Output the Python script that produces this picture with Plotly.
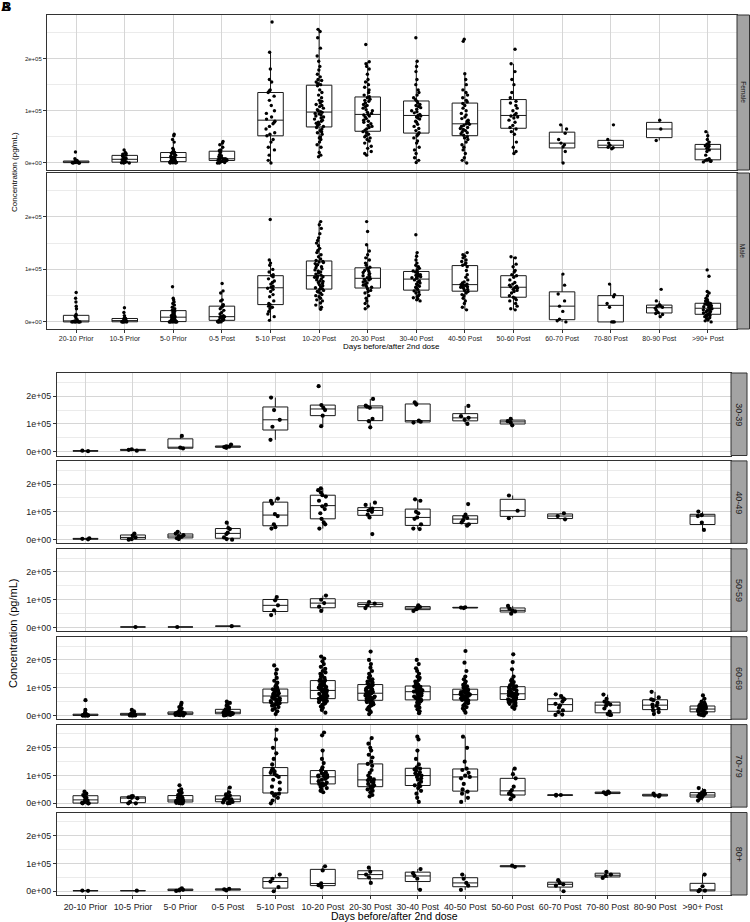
import plotly.graph_objects as go

categories = ["20-10 Prior", "10-5 Prior", "5-0 Prior", "0-5 Post", "5-10 Post",
              "10-20 Post", "20-30 Post", "30-40 Post", "40-50 Post", "50-60 Post",
              "60-70 Post", "70-80 Post", "80-90 Post", ">90+ Post"]
y_tick_values = [0, 100000, 200000]
y_tick_labels = ["0e+00", "1e+05", "2e+05"]
x_title = "Days before/after 2nd dose"
y_title = "Concentration (pg/mL)"
sex_labels = ["Female", "Male"]
age_labels = ["30-39", "40-49", "50-59", "60-69", "70-79", "80+"]

# concentrations, in thousands of pg/mL, one list per category
female = [
    [0, 0, 0, 0.5, 1, 1, 1.5, 2, 2, 2.5, 3, 4, 5, 8, 21],
    [0, 0, 0.5, 1, 1, 2, 3, 5, 6, 7, 7, 9, 10, 12, 14, 15, 17, 18, 20, 25],
    [0, 0, 0.5, 1, 1, 1.5, 2, 2.5, 3, 4, 5, 6, 8, 9, 10, 11, 12, 13, 15, 17, 18, 20, 20, 22, 25, 28, 40, 45, 52, 55],
    [0, 0, 1, 2, 3, 4, 5, 5, 6, 7, 8, 8, 8, 10, 12, 14, 16, 20, 22, 24, 25, 30, 35, 38, 41],
    [0, 5, 15, 25, 30, 40, 45, 52, 55, 58, 65, 70, 75, 78, 80, 84, 88, 95, 100, 110, 120, 128, 135, 138, 140, 155, 160, 180, 212, 270],
    [12, 15, 20, 30, 35, 40, 45, 48, 50, 55, 58, 60, 62, 65, 68,
     70, 72, 74, 76, 78, 80, 82, 84, 86, 88, 90, 92, 94, 95, 97,
     98, 100, 102, 105, 108, 110, 112, 115, 118, 120, 125, 130, 135, 140, 148,
     150, 152, 155, 158, 160, 165, 170, 178, 185, 195, 205, 220, 240, 252, 256],
    [15, 18, 22, 28, 32, 38, 42, 45, 48, 50, 52, 55, 58, 60,
     63, 65, 68, 70, 72, 75, 78, 80, 82, 85, 88, 90, 92, 93,
     95, 97, 100, 102, 105, 108, 110, 112, 115, 118, 120, 122, 125,
     127, 130, 135, 140, 145, 150, 155, 160, 170, 180, 185, 190, 194, 227],
    [1, 5, 10, 18, 25, 30, 38, 42, 48, 52, 55, 58, 62, 66, 70, 74, 78, 80, 84, 86, 88, 90, 91,
     93, 96, 98, 100, 103, 106, 108, 110, 112, 115, 118, 121, 125, 130, 135, 140, 150, 160, 175, 185, 195, 240],
    [0, 5, 10, 18, 25, 30, 35, 40, 45, 48, 50, 53, 56, 58, 60, 62, 64, 66, 68, 70, 72, 74, 75,
     77, 80, 82, 85, 88, 92, 95, 100, 105, 110, 114, 117, 120, 125, 130, 135, 140, 150, 160, 171, 233, 237],
    [18, 22, 30, 40, 55, 60, 65, 68, 72, 78, 82, 86, 88, 90, 92, 95, 100, 105, 110, 115, 118, 125, 135, 150, 160, 175, 190, 218],
    [0, 22, 31, 35, 38, 45, 57, 65, 73],
    [27, 29, 30, 34, 38, 45, 73],
    [43, 65, 82],
    [2, 3, 4, 5, 6, 6, 8, 15, 22, 25, 28, 30, 32, 33, 35, 36, 40, 45, 52, 60],
]

male = [
    [0, 0, 0, 0, 0, 0, 0, 0.5, 0.5, 1, 1, 1, 1, 1.5, 2, 4, 8, 11, 12, 14, 25, 30, 38, 45, 56],
    [0, 0, 0, 0, 0, 0.5, 1, 1.5, 2, 2.5, 2.5, 3, 4, 5, 6, 7, 8, 12, 18, 27],
    [0, 0, 0, 0, 0, 0, 0, 0, 0.5, 1, 2, 3, 4, 5, 6, 7, 8, 9, 10, 11, 12, 13, 15, 17, 19, 20, 22, 25, 28, 32, 35, 38, 42, 45, 67],
    [0, 0, 0, 0, 1, 2, 3, 3, 4, 5, 6, 8, 9, 10, 10, 10, 12, 15, 18, 22, 25, 28, 30, 32, 33, 40, 42, 55, 59, 73],
    [3, 10, 15, 20, 25, 28, 30, 33, 35, 40, 48, 52, 58, 62, 64, 66, 68, 72, 75, 78, 82, 86, 88, 90, 95, 100, 108, 112, 118, 195],
    [24, 28, 32, 36, 40, 42, 45, 48, 50, 52, 55, 57, 58, 60, 62,
     63, 65, 67, 69, 71, 73, 75, 77, 78, 80, 82, 84, 85, 86, 87,
     89, 91, 93, 95, 97, 99, 101, 103, 105, 107, 109, 111, 113, 114, 115,
     117, 120, 124, 128, 132, 136, 140, 145, 150, 155, 160, 168, 178, 185, 191],
    [25, 30, 35, 40, 45, 50, 55, 58, 60, 63, 66, 68, 70, 72, 74, 76, 78, 80, 81, 82,
     84, 86, 88, 90, 92, 94, 96, 98, 100, 102, 104, 108, 112, 118, 122, 128, 135, 147, 172, 191],
    [40, 42, 44, 46, 48, 50, 52, 55, 57, 59, 62, 64, 66, 68, 70, 72, 74, 76, 78, 80,
     83, 84, 85, 86, 88, 89, 90, 92, 94, 95, 97, 99, 102, 105, 108, 112, 118, 125, 132, 166],
    [23, 28, 35, 40, 45, 50, 52, 55, 58, 60, 62, 64, 66, 67, 68, 69, 70, 71, 72, 74, 76, 80, 85, 90, 98,
     105, 108, 110, 112, 115, 118, 122, 125, 128, 132],
    [23, 25, 30, 35, 40, 42, 45, 47, 50, 55, 58, 60, 62, 64, 65, 67, 68, 70, 72, 75, 80, 85, 88, 90, 95, 98, 105, 110, 122, 124],
    [0, 2, 5, 20, 30, 40, 53, 70, 91],
    [0, 0, 0, 28, 35, 48, 52, 72],
    [10, 14, 16, 18, 22, 26, 28, 30, 31, 33, 40, 62],
    [0, 2, 4, 6, 8, 10, 11, 12, 13, 14, 15, 17, 18, 19, 20, 21, 22, 23, 24, 25,
     27, 28, 29, 30, 31, 32, 33, 34, 34, 35, 36, 38, 40, 42, 45, 50, 55, 58, 87, 99],
]

age_30_39 = [
    [2, 4], [4, 7, 9], [12, 15, 57], [14, 17, 18, 19, 26],
    [43, 90, 115, 150, 195], [92, 130, 150, 158, 168, 236], [88, 110, 118, 158, 162, 166, 190],
    [105, 108, 112, 170, 178], [100, 115, 122, 128, 165], [95, 105, 110, 118],
    [], [], [], [],
]

age_40_49 = [
    [1, 3, 5], [0, 2, 8, 15, 22], [2, 5, 10, 13, 16, 22, 28], [0, 2, 8, 20, 25, 38, 42, 61],
    [40, 45, 55, 85, 92, 130, 140, 148],
    [40, 55, 62, 75, 95, 110, 120, 125, 140, 155, 160, 170, 178, 185],
    [20, 80, 90, 100, 105, 108, 112, 125, 133],
    [38, 40, 55, 75, 80, 95, 100, 140, 145],
    [50, 55, 62, 70, 78, 82, 90, 128],
    [77, 104, 159], [73, 85, 95], [], [], [35, 61, 85, 88, 101],
]

age_50_59 = [
    [], [2], [2], [5],
    [45, 62, 80, 98, 110], [60, 75, 88, 100, 115], [70, 80, 86, 92],
    [60, 66, 70, 74, 80], [70, 72, 73], [50, 58, 62, 68, 78],
    [], [], [], [],
]

age_60_69 = [
    [0, 0, 0, 0, 0, 0, 0.5, 1, 1, 1, 2, 2, 3, 3, 4, 5, 6, 10, 20, 55],
    [0, 0, 0, 0, 1, 1, 2, 2, 3, 3, 4, 4, 5, 6, 7, 8, 9, 12, 15, 20],
    [0, 1, 2, 2, 3, 4, 4, 5, 5, 6, 6, 7, 8, 8, 9, 10, 10, 11, 12, 14, 18, 25, 30, 38, 45],
    [0, 1, 2, 3, 4, 5, 5, 6, 7, 8, 8, 9, 10, 10, 11, 12, 13, 14, 15, 16, 18, 20, 22, 25, 28, 30, 35, 40, 45, 50],
    [5, 15, 20, 25, 30, 35, 38, 40, 42, 44, 47, 50, 52, 55, 58, 60, 62, 64, 66, 68,
     72, 74, 76, 78, 80, 83, 86, 88, 91, 94, 96, 100, 105, 110, 118, 125, 135, 150, 165, 180],
    [10, 20, 28, 32, 38, 42, 45, 48, 50, 52, 55, 56, 58, 60,
     62, 64, 66, 68, 70, 72, 75, 78, 80, 82, 84, 86, 88, 90,
     92, 94, 96, 98, 100, 102, 105, 108, 110, 114, 118, 120, 124,
     126, 130, 135, 140, 145, 150, 155, 160, 168, 175, 185, 195, 205, 212],
    [5, 12, 18, 22, 28, 32, 36, 40, 44, 46, 48, 50, 52, 54,
     56, 58, 60, 62, 64, 66, 68, 70, 72, 74, 76, 77, 79, 80,
     82, 84, 86, 88, 90, 92, 94, 96, 98, 100, 103, 106, 109,
     112, 115, 118, 122, 126, 130, 136, 142, 150, 160, 172, 185, 200, 230],
    [8, 15, 22, 28, 34, 40, 44, 47, 50, 52, 53, 54, 56, 59, 62, 65, 68, 70, 72, 75, 78, 80, 82, 84, 85,
     86, 88, 90, 92, 93, 95, 96, 98, 100, 102, 103, 104, 106, 110, 114, 118, 122, 128, 135, 140, 150, 160, 170, 185, 200],
    [10, 18, 25, 30, 35, 40, 44, 48, 50, 52, 54, 56, 58, 60, 62, 64, 66, 68, 70, 71, 72, 74, 75,
     76, 77, 78, 80, 82, 84, 86, 88, 90, 92, 94, 96, 100, 105, 110, 115, 122, 130, 140, 160, 190, 232],
    [24, 30, 35, 40, 42, 45, 48, 50, 52, 54, 56, 58, 60, 62, 64, 66, 68, 70, 72, 74, 76, 77, 78,
     80, 82, 84, 86, 88, 90, 92, 95, 98, 100, 103, 105, 108, 110, 115, 120, 125, 130, 140, 166, 192, 220],
    [2, 3, 12, 18, 28, 36, 42, 50, 58, 62, 70, 76],
    [2, 2, 5, 14, 25, 35, 39, 42, 46, 50, 60, 75],
    [5, 12, 18, 24, 30, 35, 39, 45, 55, 58, 65, 85],
    [0, 2, 4, 6, 8, 10, 12, 13, 14, 16, 18, 19, 20, 21, 22, 24, 25, 26, 28, 30, 32, 33, 34, 35, 38, 40, 45, 50, 60, 72],
]

age_70_79 = [
    [0, 0, 0, 2, 5, 10, 15, 20, 25, 30, 35, 42],
    [0, 0, 5, 18, 20, 22, 25, 26],
    [0, 0, 1, 2, 3, 4, 5, 5, 6, 7, 8, 9, 10, 11, 12, 12, 13, 15, 17, 20, 22, 25, 28, 30, 33, 38, 42, 45, 50, 65],
    [0, 1, 3, 5, 8, 12, 14, 15, 17, 20, 25, 28, 32, 40, 57],
    [0, 10, 20, 28, 32, 35, 38, 50, 60, 75, 85, 95, 100, 105, 110, 115, 118, 120, 125, 140, 160, 180, 200, 230, 265],
    [40, 45, 50, 55, 60, 65, 68, 70, 72, 75, 80, 85, 88, 92, 95, 96, 98, 100, 102, 105, 108, 112, 118, 122, 130, 145, 160, 190, 245, 255],
    [25, 30, 40, 45, 50, 55, 58, 60, 62, 65, 70, 75, 78, 80, 83, 86, 88, 92, 100, 110, 120, 135, 142, 150, 165, 175, 190, 200, 215, 235],
    [5, 20, 35, 45, 55, 62, 65, 70, 78, 85, 90, 95, 100, 103, 108, 112, 118, 122, 125, 130, 140, 160, 190, 230, 240],
    [5, 20, 35, 42, 50, 70, 90, 95, 100, 110, 120, 125, 150, 200, 240],
    [15, 25, 30, 35, 42, 48, 60, 90, 105, 125],
    [28, 30, 31],
    [33, 36, 38, 40, 42],
    [25, 28, 30, 35],
    [10, 18, 22, 25, 28, 30, 32, 35, 40, 45, 55],
]

age_80_plus = [
    [1.5, 2.5], [2], [1, 3, 5, 7, 10], [3, 7, 9],
    [0, 15, 35, 45, 60], [15, 22, 28, 75, 90], [30, 50, 60, 70, 85],
    [5, 45, 55, 65, 80], [5, 20, 30, 45, 60], [88, 92],
    [0, 20, 25, 30, 40], [48, 55, 60, 70], [], [0, 2, 5, 18, 60],
]

THOUSAND = 1000
W, H = 750, 922
FONT = "Liberation Sans, Arial, sans-serif"


def fx(px):
    return px / W


def fy(px):
    return 1 - px / H


# (strip label, data, x-left, x-right, top, bottom, strip x0, strip x1, marker size, panel, show x labels)
facets = []
for i, (lab, d) in enumerate(zip(sex_labels, [female, male])):
    top = [15, 173][i]
    bot = [170, 329][i]
    facets.append((lab, d, 47, 737, top, bot, 737, 749.5, 3.4, "A", i == 1))
for i, (lab, d) in enumerate(zip(age_labels, [age_30_39, age_40_49, age_50_59,
                                              age_60_69, age_70_79, age_80_plus])):
    top = 373 + i * 87.9
    facets.append((lab, d, 57, 731, top, top + 82.5, 731, 747, 4.2, "B", i == 5))

fig = go.Figure()
layout = dict(width=W, height=H, margin=dict(l=0, r=0, t=0, b=0),
              paper_bgcolor="white", plot_bgcolor="white",
              boxgap=0.25, boxmode="overlay", showlegend=False,
              font=dict(family=FONT, color="#333333"))
shapes = []
annotations = []

for n, (lab, data, x0, x1, top, bot, s0, s1, ms, panel, show_x) in enumerate(facets, start=1):
    xs, ys = [], []
    for cat, vals in zip(categories, data):
        for v in vals:
            xs.append(cat)
            ys.append(v * THOUSAND)
    fig.add_trace(go.Box(
        x=xs, y=ys, xaxis=f"x{n}", yaxis=f"y{n}",
        boxpoints="all", jitter=0.4, pointpos=0, whiskerwidth=0,
        fillcolor="white", line=dict(color="#1a1a1a", width=1),
        marker=dict(color="black", size=ms), hoveron="points", showlegend=False,
    ))
    tick_x = 7 if panel == "A" else 8.8
    tick_y = 6 if panel == "A" else 8.9
    layout[f"xaxis{n}"] = dict(
        domain=[fx(x0), fx(x1)], anchor=f"y{n}", type="category",
        categoryorder="array", categoryarray=categories, range=[-0.6, 13.6],
        showgrid=True, gridcolor="#d6d6d6", gridwidth=1,
        showline=True, mirror=True, linecolor="#333333", linewidth=1,
        ticks="outside" if show_x else "", ticklen=3, tickcolor="#333333",
        showticklabels=show_x, tickfont=dict(size=tick_x, color="#222222"),
        zeroline=False, fixedrange=True,
    )
    layout[f"yaxis{n}"] = dict(
        domain=[fy(bot), fy(top)], anchor=f"x{n}",
        range=[-13500, 283500], tickmode="array",
        tickvals=y_tick_values, ticktext=y_tick_labels,
        showgrid=True, gridcolor="#d6d6d6", gridwidth=1,
        minor=dict(tick0=0, dtick=50000, showgrid=True, gridcolor="#ebebeb", gridwidth=1, ticks=""),
        showline=True, mirror=True, linecolor="#333333", linewidth=1,
        ticks="outside", ticklen=3, tickcolor="#333333",
        tickfont=dict(size=tick_y, color="#222222"), zeroline=False, fixedrange=True,
    )
    shapes.append(dict(type="rect", xref="paper", yref="paper",
                       x0=fx(s0), x1=fx(s1), y0=fy(bot), y1=fy(top),
                       fillcolor="#a3a3a3", line=dict(color="#333333", width=1)))
    annotations.append(dict(text=lab, xref="paper", yref="paper",
                            x=fx((s0 + s1) / 2), y=fy((top + bot) / 2),
                            showarrow=False, textangle=90,
                            font=dict(size=6.5 if panel == "A" else 9, color="#1a1a1a"),
                            xanchor="center", yanchor="middle"))

# axis titles and panel letters
annotations += [
    dict(text=x_title, xref="paper", yref="paper", x=fx(392), y=fy(346.5), showarrow=False,
         font=dict(size=8, color="black"), xanchor="center", yanchor="middle"),
    dict(text=y_title, xref="paper", yref="paper", x=fx(14), y=fy(172), showarrow=False,
         textangle=-90, font=dict(size=8, color="black"), xanchor="center", yanchor="middle"),
    dict(text=x_title, xref="paper", yref="paper", x=fx(394), y=fy(916), showarrow=False,
         font=dict(size=10.5, color="black"), xanchor="center", yanchor="middle"),
    dict(text=y_title, xref="paper", yref="paper", x=fx(13), y=fy(634), showarrow=False,
         textangle=-90, font=dict(size=11, color="black"), xanchor="center", yanchor="middle"),
    dict(text="<b>B</b>", xref="paper", yref="paper", x=fx(6), y=fy(7), showarrow=False,
         font=dict(size=13, color="black"), xanchor="center", yanchor="middle"),
    dict(text="<b>A</b>", xref="paper", yref="paper", x=fx(6), y=fy(7), showarrow=False,
         font=dict(size=13, color="black"), xanchor="center", yanchor="middle"),
]

layout["shapes"] = shapes
layout["annotations"] = annotations
fig.update_layout(**layout)
fig.write_html(
    "out.html",
    config={"displayModeBar": False},
    post_script="document.body.style.margin='0';document.body.style.padding='0';"
                "document.body.style.overflow='hidden';",
)
